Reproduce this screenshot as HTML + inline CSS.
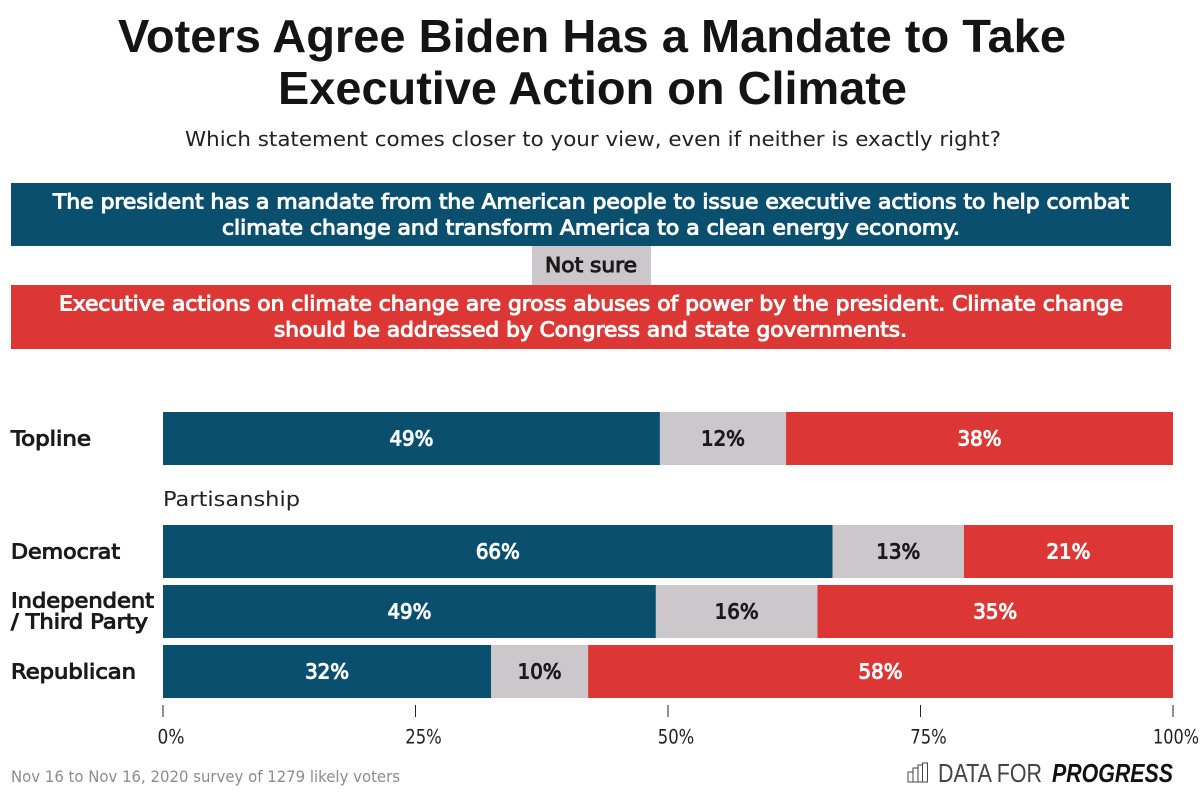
<!DOCTYPE html>
<html lang="en">
<head>
<meta charset="utf-8">
<title>Voters Agree Biden Has a Mandate to Take Executive Action on Climate</title>
<style>
html,body{margin:0;padding:0;background:#fff;width:1200px;height:795px;overflow:hidden}
svg{display:block}
text{font-family:"DejaVu Sans","Liberation Sans",sans-serif}
.semi{stroke-width:1px;paint-order:stroke}
.lib{font-family:"Liberation Sans",sans-serif}
</style>
</head>
<body>
<svg id="chart" width="1200" height="795" viewBox="0 0 1200 795" xmlns="http://www.w3.org/2000/svg">
  <rect width="1200" height="795" fill="#fff"/>
  <g fill="#141414" font-weight="700" font-size="46">
    <text class="lib" x="118" y="52" textLength="948" lengthAdjust="spacingAndGlyphs">Voters Agree Biden Has a Mandate to Take</text>
    <text class="lib" x="278" y="104" textLength="629" lengthAdjust="spacingAndGlyphs">Executive Action on Climate</text>
  </g>
  <text x="185" y="146" font-size="20.5" fill="#222" textLength="816" lengthAdjust="spacingAndGlyphs">Which statement comes closer to your view, even if neither is exactly right?</text>

  <rect x="11" y="183" width="1160" height="63" fill="#0b4f6e"/>
  <text class="semi" x="53" y="208.500" font-size="20.5" fill="#fff" stroke="#fff" textLength="1076" lengthAdjust="spacingAndGlyphs">The president has a mandate from the American people to issue executive actions to help combat</text>
  <text class="semi" x="222" y="234.500" font-size="20.5" fill="#fff" stroke="#fff" textLength="738" lengthAdjust="spacingAndGlyphs">climate change and transform America to a clean energy economy.</text>
  <rect x="532" y="246" width="119" height="39" fill="#cbc7cb"/>
  <text class="semi" x="545" y="272" font-size="20.5" fill="#1a1a1a" stroke="#1a1a1a" textLength="92" lengthAdjust="spacingAndGlyphs">Not sure</text>
  <rect x="11" y="285" width="1160" height="64" fill="#dc3734"/>
  <text class="semi" x="59" y="310.500" font-size="20.5" fill="#fff" stroke="#fff" textLength="1064" lengthAdjust="spacingAndGlyphs">Executive actions on climate change are gross abuses of power by the president. Climate change</text>
  <text class="semi" x="274" y="336.500" font-size="20.5" fill="#fff" stroke="#fff" textLength="633" lengthAdjust="spacingAndGlyphs">should be addressed by Congress and state governments.</text>

  <text x="163" y="506" font-size="20.5" fill="#222" textLength="137" lengthAdjust="spacingAndGlyphs">Partisanship</text>

  <g id="bars"></g>
  <g id="axis"></g>

  <text x="11" y="782" font-size="16" fill="#8c8c8c" textLength="389" lengthAdjust="spacingAndGlyphs">Nov 16 to Nov 16, 2020 survey of 1279 likely voters</text>

  <g>
    <g fill="none" stroke="#444" stroke-width="1">
      <path d="M908 772h5v10h-5zM913 768h5v14h-5zM918 765h4.500v17h-4.500zM922.500 763h5v19h-5z"/>
    </g>
    <text class="lib" x="938" y="782" font-size="26" fill="#444" textLength="104" lengthAdjust="spacingAndGlyphs">DATA FOR</text>
    <text class="lib" x="1052" y="782" font-size="26" font-weight="700" font-style="italic" fill="#111" textLength="121" lengthAdjust="spacingAndGlyphs">PROGRESS</text>
  </g>
</svg>
<script>
// Chart data
const categories = ['Topline', 'Democrat', 'Independent / Third Party', 'Republican'];
const mandateValues = [49.2, 66.3, 48.8, 32.49];
const notSureValues = [12.49, 13.0, 16.0, 9.6];
const abuseValues = [38.31, 20.7, 35.2, 57.91];
const tickValues = [0, 25, 50, 75, 100];
const tickLabels = ['0%', '25%', '50%', '75%', '100%'];

const SVG_NS = 'http://www.w3.org/2000/svg';
const x0 = 163, x1 = 1173;
const xScale = v => x0 + (v / 100) * (x1 - x0);
const rowTop = i => i === 0 ? 412 : 525 + (i - 1) * 60;
const barHeight = 53;
const seriesList = [
  { key: 'mandate', values: mandateValues, fill: '#0b4f6e', text: '#fff' },
  { key: 'not-sure', values: notSureValues, fill: '#cbc7cb', text: '#1a1a1a' },
  { key: 'abuse', values: abuseValues, fill: '#dc3734', text: '#fff' }
];
const slug = s => s.toLowerCase().replace(/[^a-z]+/g, '-');
const bars = document.getElementById('bars');
const axis = document.getElementById('axis');

function make(parent, tag, attrs, content) {
  const el = document.createElementNS(SVG_NS, tag);
  for (const k in attrs) el.setAttribute(k, attrs[k]);
  if (content !== undefined) el.textContent = content;
  parent.appendChild(el);
  return el;
}

categories.forEach((cat, i) => {
  const top = rowTop(i);
  const mid = top + barHeight / 2;
  // Category label (the long one wraps in two lines)
  const lines = cat === 'Independent / Third Party' ? ['Independent', '/ Third Party'] : [cat];
  lines.forEach((line, li) => {
    const y = lines.length === 1 ? mid + 7 : mid - 4 + li * 21;
    const label = make(bars, 'text', {
      x: 11, y: y, 'font-size': 20.5, fill: '#1a1a1a', stroke: '#1a1a1a', class: 'semi'
    }, line);
    
    
    label.setAttribute('textLength', ({ 'Topline': 80, 'Democrat': 109, 'Independent': 143, '/ Third Party': 137, 'Republican': 125 })[line] || line.length * 11);
    label.setAttribute('lengthAdjust', 'spacingAndGlyphs');
  });
  // Stacked segments
  let cum = 0;
  seriesList.forEach(s => {
    const v = s.values[i];
    const sx = xScale(cum);
    const w = xScale(cum + v) - sx;
    const seg = make(bars, 'rect', { x: sx, y: top, width: w, height: barHeight, fill: s.fill });
    
    
    const txt = make(bars, 'text', {
      x: sx + w / 2, y: mid + 7, 'text-anchor': 'middle', 'font-size': 20.5,
      fill: s.text, stroke: s.text, class: 'semi'
    }, Math.round(v) + '%');
    
    
    txt.setAttribute('textLength', 44);
    txt.setAttribute('lengthAdjust', 'spacingAndGlyphs');
    cum += v;
  });
});

tickValues.forEach((t, i) => {
  const tx = xScale(t);
  const tick = make(axis, 'line', { x1: tx, x2: tx, y1: 705, y2: 717, stroke: '#222', 'stroke-width': 1 });
  
  
  const width = 9.5 * tickLabels[i].length + 8;
  const centre = Math.min(tx + 8, 1199 - width / 2);
  const lab = make(axis, 'text', {
    x: centre, y: 743.5, 'text-anchor': 'middle', 'font-size': 19.5, fill: '#222'
  }, tickLabels[i]);
  
  
  lab.setAttribute('textLength', width);
  lab.setAttribute('lengthAdjust', 'spacingAndGlyphs');
});
</script>
</body>
</html>
